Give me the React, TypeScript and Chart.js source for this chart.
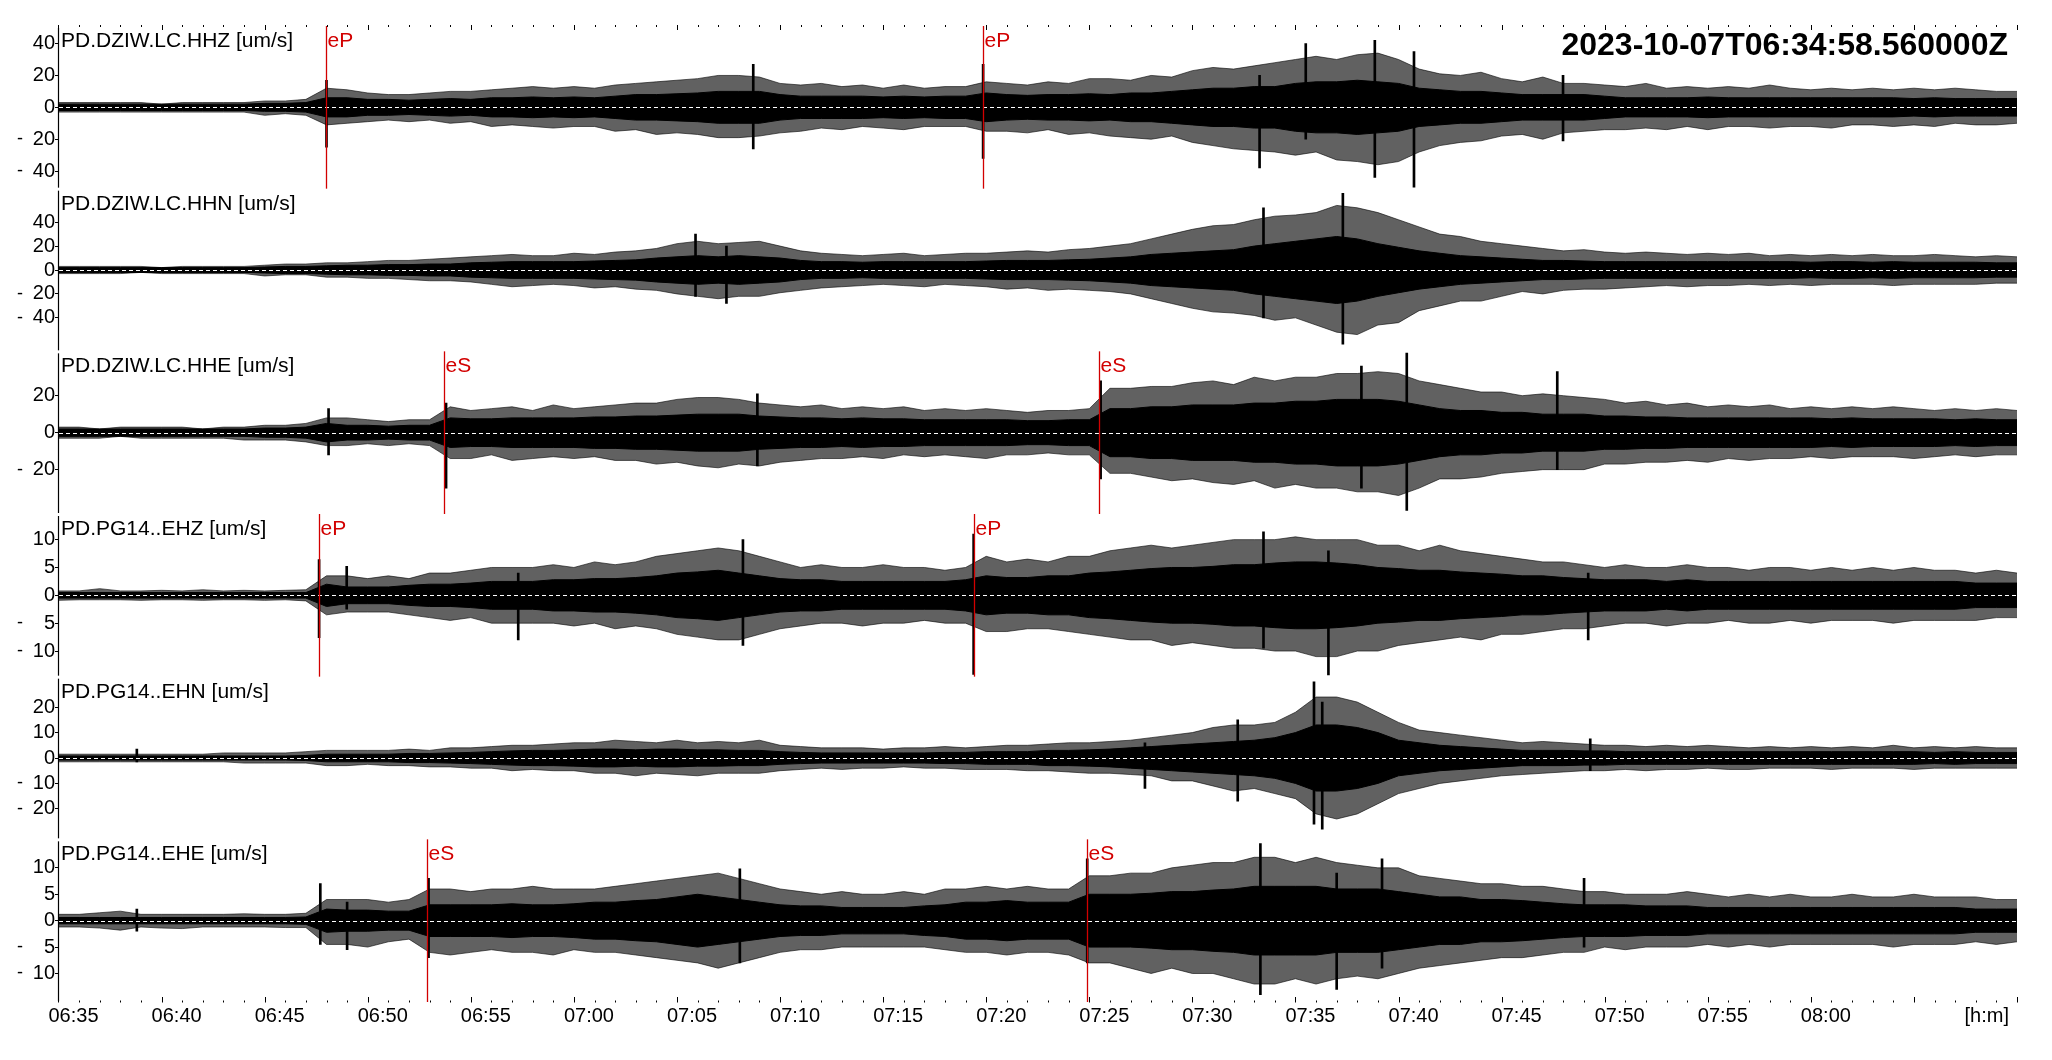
import { useEffect, useRef } from 'react';
import { Chart, registerables } from 'chart.js';

Chart.register(...registerables);

const FONT = '"Liberation Sans", Arial, Helvetica, sans-serif';
const RED = '#d20000';
const START_TIME = 34.976; // 06:34:58.56, minutes after 06:00
const END_TIME = 130; // 08:10
const TIMESTAMP = '2023-10-07T06:34:58.560000Z';

// sample times, minutes after 06:00 (one per minute)
const TIMES = [35,36,37,38,39,40,41,42,43,44,45,46,47,48,49,50,51,52,53,54,55,56,57,58,59,60,61,62,63,64,65,66,67,68,69,70,71,72,73,74,75,76,77,78,79,80,81,82,83,84,85,86,87,88,89,90,91,92,93,94,95,96,97,98,99,100,101,102,103,104,105,106,107,108,109,110,111,112,113,114,115,116,117,118,119,120,121,122,123,124,125,126,127,128,129,130];
const MAJOR_TICKS = [35,40,45,50,55,60,65,70,75,80,85,90,95,100,105,110,115,120,125,130];
const X_LABELS = ['06:35','06:40','06:45','06:50','06:55','07:00','07:05','07:10','07:15','07:20','07:25','07:30','07:35','07:40','07:45','07:50','07:55','08:00'];
const X_UNIT = '[h:m]';

// ---- PD.DZIW.LC.HHZ ----
const HHZ_HI = [3,3,3,3,3,2,3,3,3,3,4,4,5, 12,11,9,8,8,9,10,10, 11,12,13,12,13,12,14,15,16,17, 18,20,20,19,15,14,15,13,14,12, 14,12,13,13,16,15,14,16,15,18, 18,17,20,19,23,25,24,26,28,30, 32,30,33,34,30,24,21,20,22,18, 16,19,15,15,14,13,15,12,13,12, 13,12,14,12,11,12,11,12,11,12, 11,12,11,10,10];
const HHZ_LO = [-3,-3,-3,-3,-3,-3,-3,-3,-3,-3,-5,-4,-5, -11,-10,-9,-8,-9,-8,-10,-9, -12,-11,-12,-13,-12,-12,-15,-14,-17,-16, -17,-19,-19,-18,-16,-15,-13,-14,-12,-13, -14,-12,-12,-12,-15,-15,-16,-14,-17,-16, -18,-19,-20,-18,-22,-24,-26,-27,-28,-30, -28,-33,-34,-36,-34,-28,-24,-22,-21,-18, -17,-20,-16,-15,-14,-14,-13,-14,-12,-14, -12,-12,-13,-12,-12,-13,-11,-11,-12,-11, -12,-10,-11,-11,-10];
const HHZ_CORE = [2,2,2,2,2,2,2,2,2,2,2.5,2.5,3, 6, 6,5,5,4.5,5,5.5,5, 6,6,6.5,6,6.5,6, 7,8,8,8.5,9, 10,10,10, 8,7,7,7,7,6.5,7,6.5,7,7, 9, 8,7.5,8,8,8.5,8,9,9,10, 11,12,12,13,13, 15,16,16,17,16,15, 12,11,10,10, 9,8,8,8,8,7, 6,6,6,6,6.5,6,6,6,6,6,6,6,6,6,5.5,6,5.5,5.5,5.5,5.5];
const HHZ_SPIKES = [[48.0,17,-25],[68.7,27,-26],[79.85,27,-32],[93.26,20,-38],[95.5,40,-20],[98.85,42,-44],[100.75,35,-50],[107.98,20,-21]];
const HHZ_PICKS = [{ t: 47.99, label: 'eP' }, { t: 79.83, label: 'eP' }];
const HHZ_TICKS = [40, 20, 0, -20, -40];

// ---- PD.DZIW.LC.HHN ----
const HHN_HI = [3,3,3,3,3,2,3,3,3,3,4,5,5, 6,6,7,8,8,9,10,11, 12,13,12,12,14,13,15,16,18,22, 24,22,23,24,20,16,14,13,12,13, 14,12,13,14,14,15,16,15,17,18, 20,22,26,30,34,37,38,42,45,46, 48,54,52,48,42,36,30,28,24,22, 20,18,16,17,15,14,15,14,13,14, 13,14,12,13,12,13,12,13,12,12, 13,12,11,12,11];
const HHN_LO = [-3,-3,-3,-3,-2,-3,-3,-3,-3,-3,-5,-4,-4, -6,-6,-7,-7,-8,-9,-9,-10, -12,-14,-13,-12,-13,-15,-14,-16,-17,-20, -22,-24,-22,-22,-19,-17,-15,-14,-13,-12, -13,-14,-12,-13,-14,-16,-15,-17,-16,-17, -18,-20,-24,-28,-32,-35,-36,-38,-42,-40, -46,-52,-54,-46,-44,-34,-30,-26,-26,-22, -18,-20,-17,-16,-16,-15,-14,-13,-14,-13, -13,-12,-13,-12,-13,-12,-12,-12,-13,-12, -12,-12,-12,-11,-11];
const HHN_CORE = [2,2,2,2,2,2,2,2,2,2, 2.5,3,3, 3.5,4,4,4.5,4.5,5,5, 6,6.5,7,7,7,7,7.5,8,8.5,10, 11,12,11,12,11,10, 8,7,7,6.5,7,7,7,7,7,7.5,8,8,8,8.5,9,10,11, 13,14,15,16,17, 20,22,24,26,28,26, 22,19,16, 14,12,11,10, 9,8,8,7.5,7,7,7,7,7,7,7,7,7,7,6.5,7,7,6.5,7,6.5,6.5,6.5,6.5,6,6];
const HHN_SPIKES = [[65.9,30,-22],[67.4,20,-28],[93.45,52,-40],[97.3,64,-62]];
const HHN_PICKS: { t: number; label: string }[] = [];
const HHN_TICKS = [40, 20, 0, -20, -40];

// ---- PD.DZIW.LC.HHE ----
const HHE_HI = [3,3,2,3,3,3,3,2,3,3,4,4,5, 8,8,7,6,7,7,14,12, 13,14,12,15,13,14,15,16,16,18, 19,19,18,16,15,14,15,13,14,13, 14,12,13,12,13,12,11,12,12,13, 24,24,25,25,27,28,26,30,28,30, 30,32,32,33,32,28,26,24,22,22, 20,21,20,19,18,16,17,15,16,14, 15,14,15,13,14,13,14,13,14,13, 12,13,12,13,12];
const HHE_LO = [-3,-3,-3,-2,-3,-3,-3,-3,-3,-4,-4,-4,-5, -7,-7,-6,-7,-6,-7,-14,-14, -12,-15,-14,-13,-14,-13,-15,-15,-17,-16, -18,-19,-17,-18,-16,-15,-14,-14,-13,-14, -12,-13,-12,-13,-14,-12,-12,-11,-12,-12, -22,-22,-24,-26,-25,-27,-28,-26,-30,-28, -30,-30,-32,-32,-34,-30,-25,-25,-24,-22, -21,-20,-20,-20,-17,-17,-16,-16,-15,-16, -14,-15,-14,-14,-13,-14,-13,-13,-13,-14, -13,-12,-13,-12,-12];
const HHE_CORE = [2,2,2,2,2,2,2,2,2,2,2.5,2.5,3, 5, 4,4,3.5,4,4, 8,7.5,7.5,8,8,8,8,8.5,8.5,9,9,9.5, 10,10,10, 9,8.5,8,8,7.5,8,7.5,7.5,7,7,7, 7,7,6.5,6.5,7,7, 13,13,14,14,15,15,15, 16,16,17,17,18,18,18,17, 15,13,12,12,11,11,10, 10,10,9,9,8.5,8.5,8,8,8,8,8,8,8,7.5,8,7.5,7.5,7.5,7.5,7,7.5,7,7];
const HHE_SPIKES = [[48.1,13,-12],[53.8,16,-30],[68.9,21,-18],[85.55,28,-25],[98.2,36,-30],[100.4,43,-42],[107.7,33,-20]];
const HHE_PICKS = [{ t: 53.68, label: 'eS' }, { t: 85.49, label: 'eS' }];
const HHE_TICKS = [20, 0, -20];

// ---- PD.PG14..EHZ ----
const EHZ_HI = [0.8,0.8,1.2,0.8,0.8,0.9,0.8,1,0.8,0.9,0.8,0.9,1, 3.5,3.5,3,3.5,3,4,4,4.5, 5,5,5,5.5,5,6,5.5,6,7,7.5, 8,8.5,8,7,6,5,5.5,5,5,5.5, 5,5,4.5,5,7,6,6.5,6,7,7, 8,8.5,9,8.5,9,9.5,10,10,10,10.5, 10,10,10,9,9,8,9,8,7.5,7, 6.5,6,6,5.5,5,5.5,5,5,5.5,5, 5,4.5,5,5,4.5,5,4.5,5,4.5,5, 4.5,4.5,4,4.5,4];
const EHZ_LO = [-0.9,-0.8,-0.8,-0.8,-0.9,-0.8,-0.8,-0.9,-0.8,-0.8,-0.9,-0.8,-1, -3.5,-3,-3,-3,-3.5,-4,-4.5,-4, -5,-5,-5,-5,-5.5,-5,-6,-5.5,-6,-7, -7.5,-8,-8,-7,-6,-5.5,-5,-5,-5.5,-5, -5,-4.5,-5,-5,-6.5,-6.5,-6,-6,-6.5,-7, -7.5,-8,-8,-9,-8.5,-9,-9.5,-9.5,-10,-10, -11,-11,-10,-10,-9,-8.5,-8,-7.5,-8,-7, -7,-6.5,-6,-6,-5.5,-5,-5,-5.5,-5,-5, -4.5,-5,-5,-4.5,-5,-4.5,-4.5,-4.5,-5,-4.5, -4.5,-4.5,-4.5,-4,-4];
const EHZ_CORE = [0.5,0.5,0.5,0.5,0.5,0.5,0.5,0.5,0.5,0.5,0.5,0.5,0.5, 2, 1.5,1.5,1.5,1.8,2, 2,2.2,2.5,2.5,2.5,2.8,2.8,3,3,3.2,3.5, 4,4.2,4.5,4, 3.5,3,2.8,2.8,2.5,2.5,2.5,2.5,2.5,2.5, 2.8,3.5,3.2,3.2,3.5,3.5, 4,4.2,4.5,4.8,5,5, 5.2,5.5,5.5,5.8,6,6,5.8,5.5, 5,4.8,4.5,4.5,4.2,4, 3.8,3.5,3.5,3.2,3, 2.8,2.8,2.8,2.5,2.8,2.5,2.5,2.5,2.5,2.5,2.5,2.5,2.5,2.5,2.5,2.5,2.5,2.5,2.2,2.2,2.2];
const EHZ_SPIKES = [[47.64,6.4,-7.6],[48.98,5.2,-2.5],[57.3,4,-8],[68.2,10,-9],[79.39,11,-14.2],[93.45,11.4,-9.5],[96.6,8,-14.3],[109.2,4,-8]];
const EHZ_PICKS = [{ t: 47.64, label: 'eP' }, { t: 79.4, label: 'eP' }];
const EHZ_TICKS = [10, 5, 0, -5, -10];

// ---- PD.PG14..EHN ----
const EHN_HI = [1.5,1.5,1.5,1.5,1.5,1.5,1.5,1.5,2,2,2,2,2.5, 3,3,3,3,3.5,3,4,4, 4.5,5,5,5.5,6,6,7,6.5,6,7, 6,6.5,6,7,5,4.5,4,4,4,3.5, 4,4,4.5,4,4.5,5,5,5.5,6,6, 6.5,7,8,9,10,12,13,13,14,18, 24,24,22,18,14,11,10,9,8,7, 6,6.5,6,5.5,5,5,4.5,5,4.5,5, 4.5,4,4.5,4,4.5,4,4.5,4,5,4, 4.5,4,4.5,4,4];
const EHN_LO = [-1.5,-1.5,-1.5,-1.5,-1.5,-1.5,-1.5,-1.5,-1.5,-2,-2,-2,-2, -3,-3,-2.5,-3,-3,-3.5,-3.5,-4, -4,-5,-4.5,-5,-5,-6,-6,-7,-6,-6.5, -7,-6,-6,-6,-5,-4.5,-4,-4.5,-4,-4, -3.5,-4,-4,-4.5,-4.5,-4.5,-5,-5,-5.5,-6, -6,-6.5,-7,-9,-9,-11,-13,-12,-14,-16, -22,-24,-22,-18,-14,-12,-10,-9,-8,-7, -6.5,-6,-5.5,-5,-5,-4.5,-5,-4.5,-4.5,-4, -4.5,-4.5,-4,-4,-4,-4.5,-4,-4,-4,-4.5, -4,-4,-4,-4,-4];
const EHN_CORE = [0.8,0.8,0.8,0.8,0.8,0.8,0.8,0.8,0.8,0.8,0.8,0.8,1, 1.5,1.5,1.5,1.5,1.8,1.8,2, 2.2,2.5,2.8,3,3,3.2,3.5,3.5,3.2,3.5,3.5,3.2,3.2,3,3, 2.5,2.2,2,2,2,2,2,2,2.2,2.2,2.5,2.5,2.5, 3,3,3.2,3.5,4,4.5, 5,5.5,6,6.5,7,8, 10,13,13,12,10, 7,6,5,4.5,4, 3.5,3,3,3,2.8,2.8,2.5,2.5,2.5,2.5,2.5,2.5,2.5,2.5,2.5,2.5,2.5,2.5,2.5,2.5,2.5,2.2,2.5,2.2,2.2,2.2];
const EHN_SPIKES = [[38.8,3.5,-1.5],[87.7,6,-12],[92.2,15,-17],[95.9,30,-26],[96.3,22,-28],[109.3,7.5,-5]];
const EHN_PICKS: { t: number; label: string }[] = [];
const EHN_TICKS = [20, 10, 0, -10, -20];

// ---- PD.PG14..EHE ----
const EHE_HI = [1.2,1.2,1.5,1.8,1.2,1.2,1.2,1.2,1.2,1.3,1.2,1.2,1.4, 4,4,4,3.5,4,6,6,5.5, 6,6,6.5,6,6,6,6.5,7,7.5,8, 8.5,9,8,7,6,5.5,5,5.5,5,5, 5.5,5,6,6,6.5,6,6.5,6,6,8.5, 8.5,9,9,10,10.5,11,11,12,12,11, 12,11,10.5,10,10,8.5,8,7.5,7,7, 6.5,6.5,6,5.5,5.5,5,5,5,5.5,5, 4.5,5,4.5,5,4.5,4.5,5,4.5,4.5,5, 4.5,4.5,4.5,4,4];
const EHE_LO = [-1.2,-1.2,-1.4,-1.8,-1.2,-1.4,-1.5,-1.2,-1.2,-1.2,-1.2,-1.3,-1.3, -4.5,-4.5,-5,-4,-3.5,-6,-6.5,-6, -5.5,-6,-6,-6.5,-5.5,-6,-6,-6.5,-7,-7.5, -8,-9,-8,-7,-6,-5.5,-5.5,-5,-5,-5, -5,-5,-5.5,-6,-6,-6.5,-6,-6,-6.5,-8, -8,-9,-10,-9,-10,-10,-11,-12,-12,-11, -12,-11,-10.5,-11,-10,-9,-8.5,-8,-7.5,-7, -7,-6.5,-6,-6,-5,-5.5,-5,-5,-5,-4.5, -5,-4.5,-5,-4.5,-4.5,-4.5,-4.5,-4.5,-5,-4.5, -4.5,-4.5,-4,-4.5,-4];
const EHE_CORE = [0.6,0.6,0.6,0.6,0.6,0.6,0.6,0.6,0.6,0.6,0.6,0.6,0.7, 2.2,2,2,1.8,1.8, 3,3,3,3,3.2,3,3,3.2,3.5,3.5,3.8,4, 4.5,5,4.5,4, 3.5,3,2.8,2.8,2.5,2.5,2.5,2.5,2.8,3, 3.5,3.5,3.8,3.5,3.5,3.5, 5,5,5,5.2,5.5,5.5,5.8,6, 6.5,6.5,6.5,6.5,6,6,6,5.5, 5,4.5,4.5,4,4,3.8,3.5, 3.2,3,3,3,2.8,2.8,2.8,2.5,2.5,2.5,2.5,2.5,2.5,2.5,2.5,2.5,2.5,2.5,2.5,2.5,2.2,2.2,2.2];
const EHE_SPIKES = [[38.8,2.2,-2],[47.7,7,-4.5],[49.0,3.5,-5.5],[52.95,8,-7],[68.05,9.8,-8],[84.9,11.7,-8],[93.3,14.6,-14],[97.0,9,-13],[99.2,11.7,-9],[109.0,8,-5]];
const EHE_PICKS = [{ t: 52.89, label: 'eS' }, { t: 84.88, label: 'eS' }];
const EHE_TICKS = [10, 5, 0, -5, -10];

const TRACES = [
  { name: 'PD.DZIW.LC.HHZ [um/s]', hi: HHZ_HI, lo: HHZ_LO, core: HHZ_CORE, spikes: HHZ_SPIKES, picks: HHZ_PICKS, ticks: HHZ_TICKS, limit: 51 },
  { name: 'PD.DZIW.LC.HHN [um/s]', hi: HHN_HI, lo: HHN_LO, core: HHN_CORE, spikes: HHN_SPIKES, picks: HHN_PICKS, ticks: HHN_TICKS, limit: 68 },
  { name: 'PD.DZIW.LC.HHE [um/s]', hi: HHE_HI, lo: HHE_LO, core: HHE_CORE, spikes: HHE_SPIKES, picks: HHE_PICKS, ticks: HHE_TICKS, limit: 44 },
  { name: 'PD.PG14..EHZ [um/s]', hi: EHZ_HI, lo: EHZ_LO, core: EHZ_CORE, spikes: EHZ_SPIKES, picks: EHZ_PICKS, ticks: EHZ_TICKS, limit: 14.6 },
  { name: 'PD.PG14..EHN [um/s]', hi: EHN_HI, lo: EHN_LO, core: EHN_CORE, spikes: EHN_SPIKES, picks: EHN_PICKS, ticks: EHN_TICKS, limit: 32 },
  { name: 'PD.PG14..EHE [um/s]', hi: EHE_HI, lo: EHE_LO, core: EHE_CORE, spikes: EHE_SPIKES, picks: EHE_PICKS, ticks: EHE_TICKS, limit: 15.4 },
];

const decorPlugin = {
  id: 'seisDecor',
  afterDatasetsDraw(chart: any) {
    const ctx: CanvasRenderingContext2D = chart.ctx;
    const a = chart.chartArea;
    const xs = chart.scales.x;
    ctx.save();
    TRACES.forEach((tr, i) => {
      const ys = chart.scales['y' + i];
      // dashed zero line
      const y0 = Math.round(ys.getPixelForValue(0)) + 0.5;
      ctx.strokeStyle = '#ffffff';
      ctx.lineWidth = 1;
      ctx.setLineDash([4, 3]);
      ctx.beginPath();
      ctx.moveTo(a.left + 1, y0);
      ctx.lineTo(a.right, y0);
      ctx.stroke();
      ctx.setLineDash([]);
      // axis line segment
      ctx.strokeStyle = '#000';
      ctx.lineWidth = 1.2;
      ctx.beginPath();
      ctx.moveTo(a.left + 0.5, ys.top + 2);
      ctx.lineTo(a.left + 0.5, ys.bottom - 1);
      ctx.stroke();
      // minus signs of negative ticks
      ctx.fillStyle = '#000';
      ctx.font = `18px ${FONT}`;
      ctx.textAlign = 'left';
      ctx.textBaseline = 'middle';
      tr.ticks.filter((v) => v < 0).forEach((v) => {
        ctx.fillText('-', 17, ys.getPixelForValue(v));
      });
      // station label
      ctx.font = `21px ${FONT}`;
      ctx.textBaseline = 'alphabetic';
      ctx.fillText(tr.name, a.left + 3, ys.top + 21);
      // picks
      ctx.strokeStyle = RED;
      ctx.fillStyle = RED;
      ctx.lineWidth = 1.3;
      tr.picks.forEach((p) => {
        const x = Math.round(xs.getPixelForValue(p.t)) + 0.5;
        ctx.beginPath();
        ctx.moveTo(x, ys.top);
        ctx.lineTo(x, ys.bottom);
        ctx.stroke();
        ctx.fillText(p.label, x + 1, ys.top + 21);
      });
    });
    // time ticks (top and bottom)
    ctx.strokeStyle = '#000';
    ctx.lineWidth = 1;
    TIMES.forEach((t) => {
      const x = Math.round(xs.getPixelForValue(t)) + 0.5;
      const major = MAJOR_TICKS.includes(t);
      ctx.beginPath();
      ctx.moveTo(x, a.top - 1);
      ctx.lineTo(x, a.top + (major ? 4 : 1));
      ctx.moveTo(x, a.bottom - (major ? 5 : 1.5));
      ctx.lineTo(x, a.bottom + 0.5);
      ctx.stroke();
    });
    // time labels
    ctx.fillStyle = '#000';
    ctx.font = `20px ${FONT}`;
    ctx.textBaseline = 'alphabetic';
    ctx.textAlign = 'left';
    X_LABELS.forEach((lab, k) => {
      const x = xs.getPixelForValue(MAJOR_TICKS[k]);
      ctx.fillText(lab, x - 10, a.bottom + 20);
    });
    ctx.textAlign = 'right';
    ctx.fillText(X_UNIT, a.right - 8, a.bottom + 20);
    // timestamp
    ctx.font = `bold 32px ${FONT}`;
    ctx.fillText(TIMESTAMP, a.right - 9, 55);
    ctx.restore();
  },
};

export default function App() {
  const ref = useRef<HTMLCanvasElement>(null);
  useEffect(() => {
    if (!ref.current) return;
    const datasets: any[] = [];
    const scales: any = {
      x: { type: 'linear', min: START_TIME, max: END_TIME, display: false, offset: false },
    };
    TRACES.forEach((tr, i) => {
      const yid = 'y' + i;
      const lineBase = { type: 'line', yAxisID: yid, xAxisID: 'x', pointRadius: 0, tension: 0, spanGaps: true };
      datasets.push({
        ...lineBase,
        data: TIMES.map((t, k) => ({ x: t, y: tr.hi[k] })),
        borderColor: 'rgba(0,0,0,0.6)',
        borderWidth: 1,
        backgroundColor: 'rgba(0,0,0,0.62)',
        fill: '+1',
        order: 3,
      });
      datasets.push({
        ...lineBase,
        data: TIMES.map((t, k) => ({ x: t, y: tr.lo[k] })),
        borderColor: 'rgba(0,0,0,0.6)',
        borderWidth: 1,
        fill: false,
        order: 3,
      });
      datasets.push({
        ...lineBase,
        data: TIMES.map((t, k) => ({ x: t, y: tr.core[k] })),
        borderColor: '#000',
        borderWidth: 1,
        backgroundColor: '#000',
        fill: '+1',
        order: 2,
      });
      datasets.push({
        ...lineBase,
        data: TIMES.map((t, k) => ({ x: t, y: -tr.core[k] })),
        borderColor: '#000',
        borderWidth: 1,
        fill: false,
        order: 2,
      });
      datasets.push({
        type: 'bar',
        yAxisID: yid,
        xAxisID: 'x',
        data: tr.spikes.map((s) => ({ x: s[0], y: [s[2], s[1]] })),
        backgroundColor: '#000',
        borderWidth: 0,
        barThickness: 2,
        grouped: false,
        order: 1,
      });
      scales[yid] = {
        type: 'linear',
        position: 'left',
        stack: 'traces',
        stackWeight: 1,
        weight: 10 - i,
        offset: false,
        min: -tr.limit,
        max: tr.limit,
        afterBuildTicks: (s: any) => {
          s.ticks = tr.ticks.map((v) => ({ value: v }));
        },
        afterFit: (s: any) => {
          s.width = 58;
        },
        ticks: {
          font: { family: FONT, size: 20 },
          color: '#000',
          padding: 0,
          autoSkip: false,
          callback: (v: any) => String(Math.abs(Number(v))),
        },
        grid: { display: true, drawOnChartArea: false, drawTicks: true, tickLength: 3, color: '#000', lineWidth: 1 },
        border: { display: false },
      };
    });

    const chart = new Chart(ref.current, {
      type: 'line',
      data: { datasets },
      options: {
        animation: false,
        responsive: false,
        devicePixelRatio: 1,
        events: [],
        layout: { padding: { left: 0, right: 35, top: 26, bottom: 58 } },
        plugins: { legend: { display: false }, tooltip: { enabled: false } },
        scales,
      } as any,
      plugins: [decorPlugin],
    } as any);
    return () => chart.destroy();
  }, []);

  return (
    <div style={{ position: 'fixed', left: 0, top: 0, width: 2052, height: 1060, background: '#fff' }}>
      <canvas ref={ref} width={2052} height={1060} style={{ display: 'block', width: 2052, height: 1060 }} />
    </div>
  );
}
